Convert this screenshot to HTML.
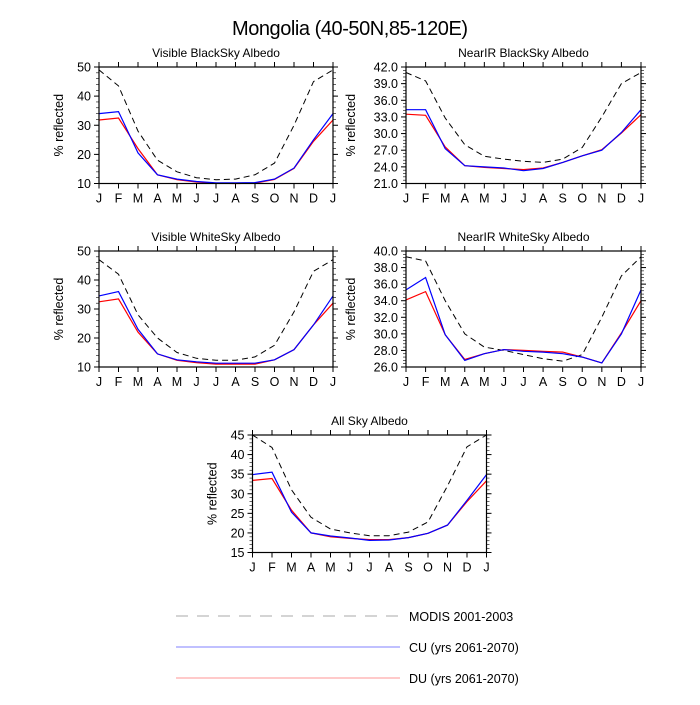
<!DOCTYPE html>
<html><head><meta charset="utf-8"><style>
body{margin:0;background:#fff;}
svg text{font-family:"Liberation Sans",sans-serif;fill:#000;}
</style></head><body>
<svg id="chart" width="700" height="700" xmlns="http://www.w3.org/2000/svg">
<text x="350" y="35" font-size="20" text-anchor="middle" textLength="236">Mongolia (40-50N,85-120E)</text>
<g>
<line x1="176" y1="616" x2="400" y2="616" stroke="#bbb" stroke-width="1.2" stroke-dasharray="12,9"/>
<text x="409" y="621" font-size="12.5">MODIS 2001-2003</text>
<line x1="176" y1="647" x2="400" y2="647" stroke="#8080ff" stroke-width="1"/>
<text x="409" y="652" font-size="12.5">CU (yrs 2061-2070)</text>
<line x1="176" y1="678" x2="400" y2="678" stroke="#ffaaaa" stroke-width="1.2"/>
<text x="409" y="683" font-size="12.5">DU (yrs 2061-2070)</text>
</g>
</svg>
<script>
const months = ["J","F","M","A","M","J","J","A","S","O","N","D","J"];
const titles = ["Visible BlackSky Albedo","NearIR BlackSky Albedo","Visible WhiteSky Albedo","NearIR WhiteSky Albedo","All Sky Albedo"];
const modisVisBlack = [49,43.5,28,18,14,12,11.3,11.5,13,17,30,45,49];
const cuVisBlack = [34,34.7,20.5,13,11.5,10.7,10.2,10.2,10.3,11.5,15.3,25,34];
const duVisBlack = [31.8,32.5,22,13,11.3,10.5,10.1,10,10.1,11.4,15.2,24.5,31.8];
const modisNirBlack = [41,39.5,32.8,28,25.9,25.4,25,24.8,25.4,27.5,33,39,41];
const cuNirBlack = [34.3,34.3,27.3,24.2,24,23.8,23.3,23.7,24.8,26,27,30.2,34.3];
const duNirBlack = [33.5,33.3,27.6,24.2,23.9,23.7,23.5,23.8,24.8,26,27.1,30.1,33.4];
const modisVisWhite = [47,42,28,20,15,13,12.3,12.3,13.5,17.5,29,43,47];
const cuVisWhite = [34.5,36,23,14.5,12.5,11.8,11.3,11.3,11.3,12.5,16,24.5,34.5];
const duVisWhite = [32.5,33.5,22,14.5,12.3,11.5,11,11,11,12.5,16,24.5,32];
const modisNirWhite = [39.3,38.8,34,30,28.4,28,27.5,27,26.7,27.5,32,37,39.3];
const cuNirWhite = [35.3,36.8,29.9,26.8,27.6,28.1,27.9,27.8,27.6,27.2,26.5,30,35.3];
const duNirWhite = [34.1,35.1,29.9,26.9,27.6,28.1,28,27.9,27.8,27.2,26.5,30.1,34];
const modisAllSky = [45,41.8,31,24,21,20,19.3,19.3,20.2,22.8,32,42,45];
const cuAllSky = [34.9,35.5,25.3,20,19.2,18.7,18.1,18.2,18.8,19.9,22,28.3,34.9];
const duAllSky = [33.4,33.9,25.8,20,19,18.6,18.3,18.3,18.8,19.9,22,28,33.3];
const yTicksVis = [10,20,30,40,50];
const yTicksNirBlack = [21,24,27,30,33,36,39,42];
const yTicksNirWhite = [26,28,30,32,34,36,38,40];
const yTicksAll = [15,20,25,30,35,40,45];

const svg = document.getElementById('chart');
const NS = 'http://www.w3.org/2000/svg';
function mk(tag, attrs, parent){const e=document.createElementNS(NS,tag);for(const k in attrs)e.setAttribute(k,attrs[k]);parent.appendChild(e);return e;}

const panels = [
 {x0:99,x1:333,y0:67,y1:183.5,ticks:yTicksVis,minor:2,dec:0,series:[modisVisBlack,cuVisBlack,duVisBlack],name:'visible-blacksky'},
 {x0:406,x1:641,y0:67,y1:183.5,ticks:yTicksNirBlack,minor:0.6,dec:1,series:[modisNirBlack,cuNirBlack,duNirBlack],name:'nearir-blacksky'},
 {x0:99,x1:333,y0:251,y1:367,ticks:yTicksVis,minor:2,dec:0,series:[modisVisWhite,cuVisWhite,duVisWhite],name:'visible-whitesky'},
 {x0:406,x1:641,y0:251,y1:367,ticks:yTicksNirWhite,minor:0.4,dec:1,series:[modisNirWhite,cuNirWhite,duNirWhite],name:'nearir-whitesky'},
 {x0:252.5,x1:486.5,y0:435,y1:552.5,ticks:yTicksAll,minor:1,dec:0,series:[modisAllSky,cuAllSky,duAllSky],name:'all-sky'}
];
const styles=[{c:'#000',d:'6,4',w:1,n:'modis'},{c:'#0000ff',d:'',w:1.2,n:'cu'},{c:'#ff0000',d:'',w:1.2,n:'du'}];
const drawOrder=[0,2,1];

panels.forEach((p,pi)=>{
 const g=mk('g',{},svg);
 
 
 const lo=p.ticks[0], hi=p.ticks[p.ticks.length-1];
 const xs=i=>p.x0+(p.x1-p.x0)*i/(months.length-1);
 const ys=v=>p.y1-(p.y1-p.y0)*(v-lo)/(hi-lo);
 const t=mk('text',{x:(p.x0+p.x1)/2,y:p.y0-10,'font-size':12,'text-anchor':'middle'},g);
 t.textContent=titles[pi];
 
 
 const yl=mk('text',{x:0,y:0,'font-size':12.5,'text-anchor':'middle',transform:`translate(${p.x0-(p.dec?51:36)},${(p.y0+p.y1)/2}) rotate(-90)`},g);
 yl.textContent='% reflected';
 
 
 for(let v=lo;v<=hi+1e-6;v+=p.minor){
  const y=ys(v);
  mk('line',{x1:p.x0-3,x2:p.x0,y1:y,y2:y,stroke:'#000','stroke-width':0.6},g);
  mk('line',{x1:p.x1,x2:p.x1+3,y1:y,y2:y,stroke:'#000','stroke-width':0.6},g);
 }
 p.ticks.forEach(v=>{
  const y=ys(v);
  mk('line',{x1:p.x0-5,x2:p.x0,y1:y,y2:y,stroke:'#000','stroke-width':1},g);
  mk('line',{x1:p.x1,x2:p.x1+5,y1:y,y2:y,stroke:'#000','stroke-width':1},g);
  const tl=mk('text',{x:p.x0-8,y:y+4.5,'font-size':12.5,'text-anchor':'end'},g);
  tl.textContent=v.toFixed(p.dec);
  
  
 });
 months.forEach((m,i)=>{
  const x=xs(i);
  mk('line',{x1:x,x2:x,y1:p.y1,y2:p.y1+5,stroke:'#000','stroke-width':1},g);
  mk('line',{x1:x,x2:x,y1:p.y0-5,y2:p.y0,stroke:'#000','stroke-width':1},g);
  const tl=mk('text',{x:x,y:p.y1+19,'font-size':12.5,'text-anchor':'middle'},g);
  tl.textContent=m;
  
  
 });
 drawOrder.forEach(si=>{
  const s=styles[si];
  const pts=p.series[si].map((v,i)=>xs(i).toFixed(1)+','+ys(v).toFixed(1)).join(' ');
  const pl=mk('polyline',{points:pts,fill:'none',stroke:s.c,'stroke-width':s.w,'stroke-dasharray':s.d},g);
  
  
 });
 mk('rect',{x:p.x0,y:p.y0,width:p.x1-p.x0,height:p.y1-p.y0,fill:'none',stroke:'#000','stroke-width':1.2},g);
});
</script>
</body></html>
